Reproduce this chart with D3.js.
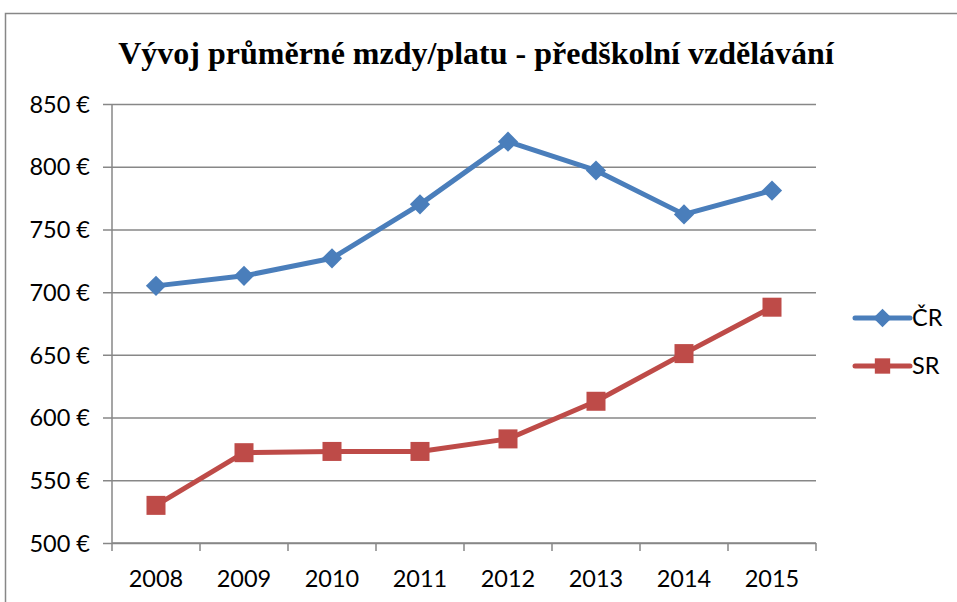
<!DOCTYPE html>
<html>
<head>
<meta charset="utf-8">
<script src="https://cdn.jsdelivr.net/npm/d3@7"></script>
<style>
    body { margin: 0; background: #ffffff; }
    .tickLabel { font-family: Lato, "Open Sans", sans-serif; font-size: 23.5px; fill: #000000; }
    #plotTitle { font-family: "Liberation Serif", "Times New Roman", serif; font-weight: bold; font-size: 32px; }
</style>
</head>
<body>
<script>
// data
var years = ["2008", "2009", "2010", "2011", "2012", "2013", "2014", "2015"];
var crValues = [705, 713, 727, 770, 820, 797, 762, 781];
var srValues = [530, 572, 573, 573, 583, 613, 651, 688];
var yTicks = [500, 550, 600, 650, 700, 750, 800, 850];
var seriesNames = ["ČR", "SR"];

// size of svg
var fullWidth = 957;
var fullHeight = 602;

// plot area
var margin = {top: 104, left: 112, right: 141, bottom: 59};
var width = fullWidth - margin.left - margin.right;
var height = fullHeight - margin.top - margin.bottom;

var colors = {"ČR": "#4a7ebb", "SR": "#be4b48"};
var gridColor = "#878787";

var svg = d3.select("body")
            .append("svg")
            .attr("width", fullWidth)
            .attr("height", fullHeight);

// outer frame of the chart
svg.append("rect")
   .attr("x", 5.5)
   .attr("y", 13.5)
   .attr("width", fullWidth + 20)
   .attr("height", fullHeight + 20)
   .style("fill", "none")
   .style("stroke", gridColor)
   .style("stroke-width", 1.5);

// scales
var xScale = d3.scaleBand()
               .domain(years)
               .range([margin.left, margin.left + width]);

var yScale = d3.scaleLinear()
               .domain([500, 850])
               .range([margin.top + height, margin.top]);

// horizontal gridlines with tick marks on the left
svg.append("g")
   .attr("transform", "translate(" + margin.left + ",0)")
   .call(d3.axisLeft(yScale)
           .tickValues(yTicks)
           .tickSize(-width)
           .tickFormat(function(d) { return d + " €"; }))
   .call(function(g) { g.select(".domain").remove(); })
   .call(function(g) {
       g.selectAll(".tick line")
        .attr("x1", -9)
        .style("stroke", gridColor)
        .style("stroke-width", 1.5);
       g.selectAll(".tick text")
        .attr("class", "tickLabel")
        .attr("x", -22)
        .attr("dy", "0.35em");
   });

// vertical axis line
svg.append("line")
   .attr("x1", margin.left)
   .attr("x2", margin.left)
   .attr("y1", margin.top)
   .attr("y2", margin.top + height + 8)
   .style("stroke", gridColor)
   .style("stroke-width", 1.5);

// x axis with tick marks between categories
var xAxis = svg.append("g")
               .attr("transform", "translate(0," + (margin.top + height) + ")");

xAxis.append("line")
     .attr("x1", margin.left)
     .attr("x2", margin.left + width)
     .style("stroke", gridColor)
     .style("stroke-width", 1.5);

xAxis.selectAll(".xtick")
     .data(years)
     .enter()
     .append("line")
     .attr("x1", function(d) { return xScale(d) + xScale.bandwidth(); })
     .attr("x2", function(d) { return xScale(d) + xScale.bandwidth(); })
     .attr("y1", 0)
     .attr("y2", 8)
     .style("stroke", gridColor)
     .style("stroke-width", 1.5);

xAxis.selectAll(".xlabel")
     .data(years)
     .enter()
     .append("text")
     .attr("class", "tickLabel")
     .attr("x", function(d) { return xScale(d) + xScale.bandwidth() / 2; })
     .attr("y", 44)
     .style("text-anchor", "middle")
     .text(function(d) { return d; });

// line generator
var line = d3.line()
             .x(function(d, i) { return xScale(years[i]) + xScale.bandwidth() / 2; })
             .y(function(d) { return yScale(d); });

// blue line with diamonds
svg.append("path")
   .datum(crValues)
   .attr("d", line)
   .style("fill", "none")
   .style("stroke", colors["ČR"])
   .style("stroke-width", 5)
   .style("stroke-linejoin", "round");

svg.selectAll(".crDot")
   .data(crValues)
   .enter()
   .append("path")
   .attr("d", d3.symbol().type(d3.symbolDiamond2).size(260))
   .attr("transform", function(d, i) {
       return "translate(" + (xScale(years[i]) + xScale.bandwidth() / 2) + "," + yScale(d) + ")";
   })
   .style("fill", colors["ČR"]);

// red line with squares
svg.append("path")
   .datum(srValues)
   .attr("d", line)
   .style("fill", "none")
   .style("stroke", colors["SR"])
   .style("stroke-width", 5)
   .style("stroke-linejoin", "round");

svg.selectAll(".srDot")
   .data(srValues)
   .enter()
   .append("rect")
   .attr("x", function(d, i) { return xScale(years[i]) + xScale.bandwidth() / 2 - 9.5; })
   .attr("y", function(d) { return yScale(d) - 9.5; })
   .attr("width", 19)
   .attr("height", 19)
   .style("fill", colors["SR"]);

// legend
var legend = svg.selectAll(".legend")
                .data(seriesNames)
                .enter()
                .append("g")
                .attr("transform", function(d, i) {
                    return "translate(855," + (318 + i * 48) + ")";
                });

legend.append("line")
      .attr("x1", 0)
      .attr("x2", 55)
      .style("stroke", function(d) { return colors[d]; })
      .style("stroke-width", 5)
      .style("stroke-linecap", "round");

legend.append("path")
      .attr("d", function(d) {
          var type = d == "ČR" ? d3.symbolDiamond2 : d3.symbolSquare2;
          return d3.symbol().type(type).size(d == "ČR" ? 220 : 300)();
      })
      .attr("transform", "translate(27.5,0)")
      .style("fill", function(d) { return colors[d]; });

legend.append("text")
      .attr("class", "tickLabel")
      .attr("x", 57)
      .attr("dy", "0.35em")
      .text(function(d) { return d; });

// title
svg.append("text")
   .attr("id", "plotTitle")
   .attr("x", 476)
   .attr("y", 64)
   .style("text-anchor", "middle")
   .text("Vývoj průměrné mzdy/platu - předškolní vzdělávání");
</script>
</body>
</html>
